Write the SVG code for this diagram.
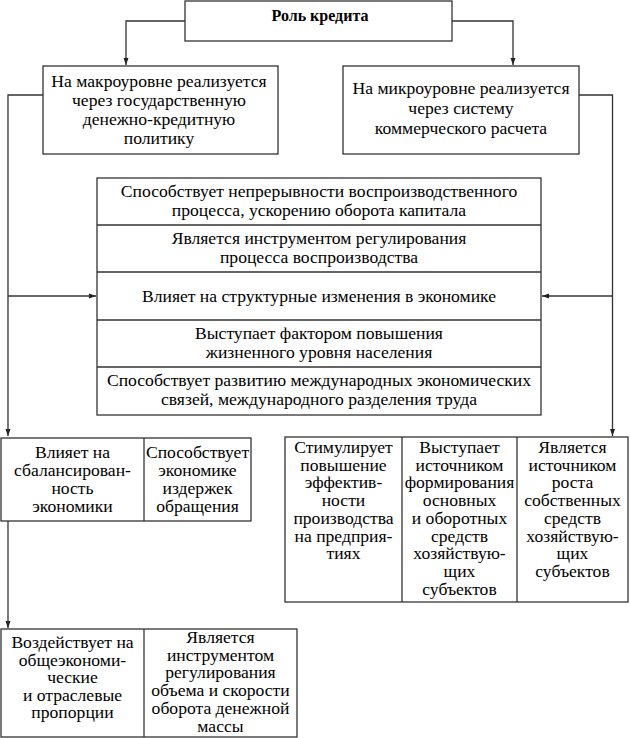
<svg xmlns="http://www.w3.org/2000/svg" width="630" height="738" viewBox="0 0 630 738">
<style>
.box{fill:#fff;stroke:#333;stroke-width:1.3}
.ln{fill:none;stroke:#333;stroke-width:1.3}
text{font-family:"Liberation Serif","Times New Roman",serif;font-size:17.6px;fill:#000;text-anchor:middle}
.t{font-weight:bold;font-size:16px}
</style>
<defs>
<marker id="ah" markerUnits="userSpaceOnUse" markerWidth="7" markerHeight="6" refX="7" refY="3" orient="auto">
<path d="M0,0.5 L7,3 L0,5.5 z" fill="#222"/>
</marker>
</defs>
<rect width="630" height="738" fill="#fff"/>
<g id="connectors">
<path class="ln" d="M185,21 H126 V65" marker-end="url(#ah)"/>
<path class="ln" d="M452,21 H513 V65" marker-end="url(#ah)"/>
<path class="ln" d="M43,95 H8 V436" marker-end="url(#ah)"/>
<path class="ln" d="M8,296 H96" marker-end="url(#ah)"/>
<path class="ln" d="M579,95 H612.5 V436" marker-end="url(#ah)"/>
<path class="ln" d="M612.5,296 H542" marker-end="url(#ah)"/>
<path class="ln" d="M8,521 V628" marker-end="url(#ah)"/>
</g>
<g id="n-role">
<rect class="box" x="185" y="1" width="267" height="40"/>
<text class="t" x="320" y="21">Роль кредита</text>
</g>
<g id="n-macro">
<rect class="box" x="43" y="66" width="235" height="88"/>
<text x="159" y="87">На макроуровне реализуется</text>
<text x="159" y="106">через государственную</text>
<text x="159" y="125">денежно-кредитную</text>
<text x="159" y="144">политику</text>
</g>
<g id="n-micro">
<rect class="box" x="343" y="66" width="236" height="88"/>
<text x="461" y="94">На микроуровне реализуется</text>
<text x="461" y="114">через систему</text>
<text x="461" y="134">коммерческого расчета</text>
</g>
<g id="n-middle">
<rect class="box" x="97" y="178" width="444" height="237"/>
<path class="ln" d="M97,225 H541 M97,272 H541 M97,320 H541 M97,367 H541"/>
<text x="319" y="197">Способствует непрерывности воспроизводственного</text>
<text x="319" y="216">процесса, ускорению оборота капитала</text>
<text x="319" y="244">Является инструментом регулирования</text>
<text x="319" y="263">процесса воспроизводства</text>
<text x="319" y="302">Влияет на структурные изменения в экономике</text>
<text x="319" y="339">Выступает фактором повышения</text>
<text x="319" y="358">жизненного уровня населения</text>
<text x="319" y="386">Способствует развитию международных экономических</text>
<text x="319" y="405">связей, международного разделения труда</text>
</g>
<g id="n-balance">
<rect class="box" x="1" y="438" width="250" height="83"/>
<path class="ln" d="M144,438 V521"/>
<text x="72.5" y="458">Влияет на</text>
<text x="72.5" y="476">сбалансирован-</text>
<text x="72.5" y="494">ность</text>
<text x="72.5" y="512">экономики</text>
<text x="197.5" y="458">Способствует</text>
<text x="197.5" y="476">экономике</text>
<text x="197.5" y="494">издержек</text>
<text x="197.5" y="512">обращения</text>
</g>
<g id="n-micro-effects">
<rect class="box" x="285" y="437" width="343" height="165"/>
<path class="ln" d="M402,437 V602 M517,437 V602"/>
<text x="343.5" y="453">Стимулирует</text>
<text x="343.5" y="470.7">повышение</text>
<text x="343.5" y="488.4">эффектив-</text>
<text x="343.5" y="506.1">ности</text>
<text x="343.5" y="523.8">производства</text>
<text x="343.5" y="541.5">на предприя-</text>
<text x="343.5" y="559.2">тиях</text>
<text x="459.5" y="453">Выступает</text>
<text x="459.5" y="470.7">источником</text>
<text x="459.5" y="488.4">формирования</text>
<text x="459.5" y="506.1">основных</text>
<text x="459.5" y="523.8">и оборотных</text>
<text x="459.5" y="541.5">средств</text>
<text x="459.5" y="559.2">хозяйствую-</text>
<text x="459.5" y="576.9">щих</text>
<text x="459.5" y="594.6">субъектов</text>
<text x="572.5" y="453">Является</text>
<text x="572.5" y="470.7">источником</text>
<text x="572.5" y="488.4">роста</text>
<text x="572.5" y="506.1">собственных</text>
<text x="572.5" y="523.8">средств</text>
<text x="572.5" y="541.5">хозяйствую-</text>
<text x="572.5" y="559.2">щих</text>
<text x="572.5" y="576.9">субъектов</text>
</g>
<g id="n-proportions">
<rect class="box" x="1" y="629" width="296" height="108"/>
<path class="ln" d="M144,629 V737"/>
<text x="72.5" y="648">Воздействует на</text>
<text x="72.5" y="665.5">общеэкономи-</text>
<text x="72.5" y="683">ческие</text>
<text x="72.5" y="700.5">и отраслевые</text>
<text x="72.5" y="718">пропорции</text>
<text x="220.5" y="643">Является</text>
<text x="220.5" y="660.7">инструментом</text>
<text x="220.5" y="678.4">регулирования</text>
<text x="220.5" y="696.1">объема и скорости</text>
<text x="220.5" y="713.8">оборота денежной</text>
<text x="220.5" y="731.5">массы</text>
</g>
</svg>
